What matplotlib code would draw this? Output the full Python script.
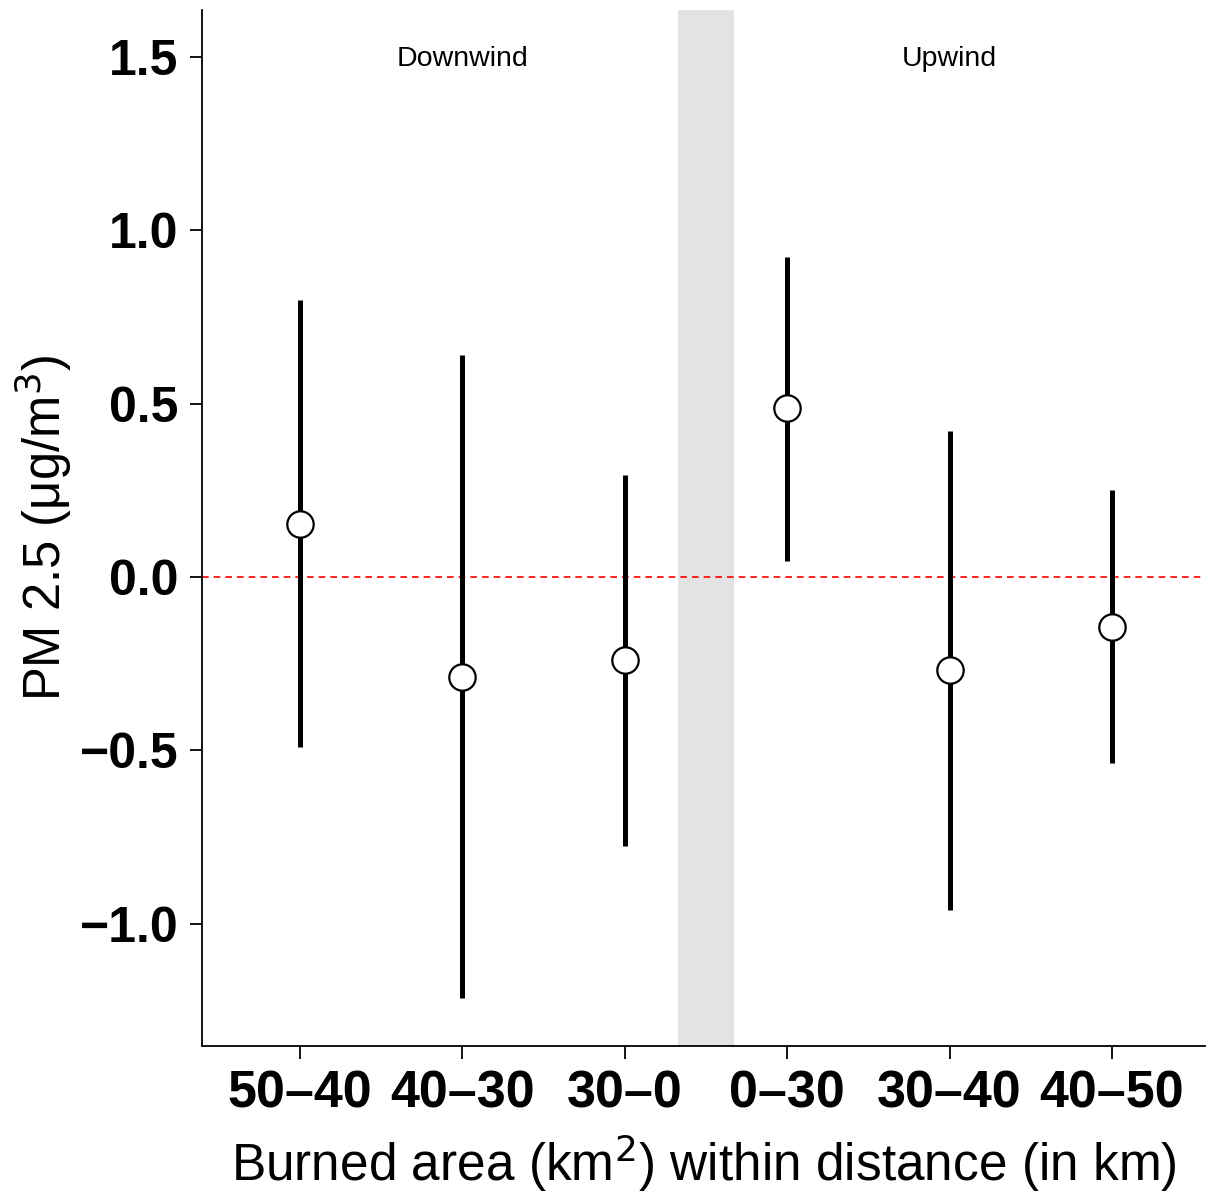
import matplotlib
matplotlib.use("Agg")
import matplotlib.pyplot as plt

plt.rcParams['font.family'] = ['Liberation Sans', 'DejaVu Sans']

# dados
categorias = ['50–40', '40–30', '30–0', '0–30', '30–40', '40–50']
estimativa = [0.153, -0.288, -0.239, 0.487, -0.268, -0.144]
limite_inf = [-0.490, -1.213, -0.775, 0.046, -0.960, -0.536]
limite_sup = [0.798, 0.640, 0.294, 0.922, 0.421, 0.251]
yticks = [-1.0, -0.5, 0.0, 0.5, 1.0, 1.5]

x = list(range(1, len(categorias) + 1))
err_baixo = [e - l for e, l in zip(estimativa, limite_inf)]
err_cima = [u - e for e, u in zip(estimativa, limite_sup)]

fig = plt.figure(figsize=(12.07, 11.95), dpi=100)
ax = fig.add_axes([202 / 1207, 1 - 1046 / 1195, (1205 - 202) / 1207, (1046 - 10) / 1195])

# faixa cinza no meio
ax.axvspan(3.33, 3.67, color='#e3e3e3', lw=0, zorder=0)
ax.axhline(0, color='red', ls='--', lw=1.2, dashes=(4, 3), zorder=1)

ax.errorbar(x, estimativa, yerr=[err_baixo, err_cima], fmt='o', color='black',
            elinewidth=3.6, capsize=0, markersize=19, markerfacecolor='white',
            markeredgecolor='black', markeredgewidth=1.6, zorder=3)

ax.text(2, 1.493, 'Downwind', ha='center', va='center', fontsize=20.5)
ax.text(5, 1.493, 'Upwind', ha='center', va='center', fontsize=20.5)

ax.set_xlim(0.397, 6.573)
ax.set_ylim(-1.352, 1.635)
ax.set_xticks(x)
ax.set_xticklabels(categorias, fontsize=37.5, fontweight='bold')
ax.set_yticks(yticks)
ax.set_yticklabels([f'{v:.1f}'.replace('-', '−') for v in yticks], fontsize=36, fontweight='bold')
ax.tick_params(length=9, width=1.3, pad=8)

ax.set_ylabel('PM 2.5 (μg/m$^3$)', fontsize=36.5, labelpad=4)
ax.set_xlabel('Burned area (km$^2$) within distance (in km)', fontsize=37, labelpad=10)

for lado in ['top', 'right']:
    ax.spines[lado].set_visible(False)
for lado in ['left', 'bottom']:
    ax.spines[lado].set_linewidth(1.3)

plt.savefig('out.png', dpi=100)
